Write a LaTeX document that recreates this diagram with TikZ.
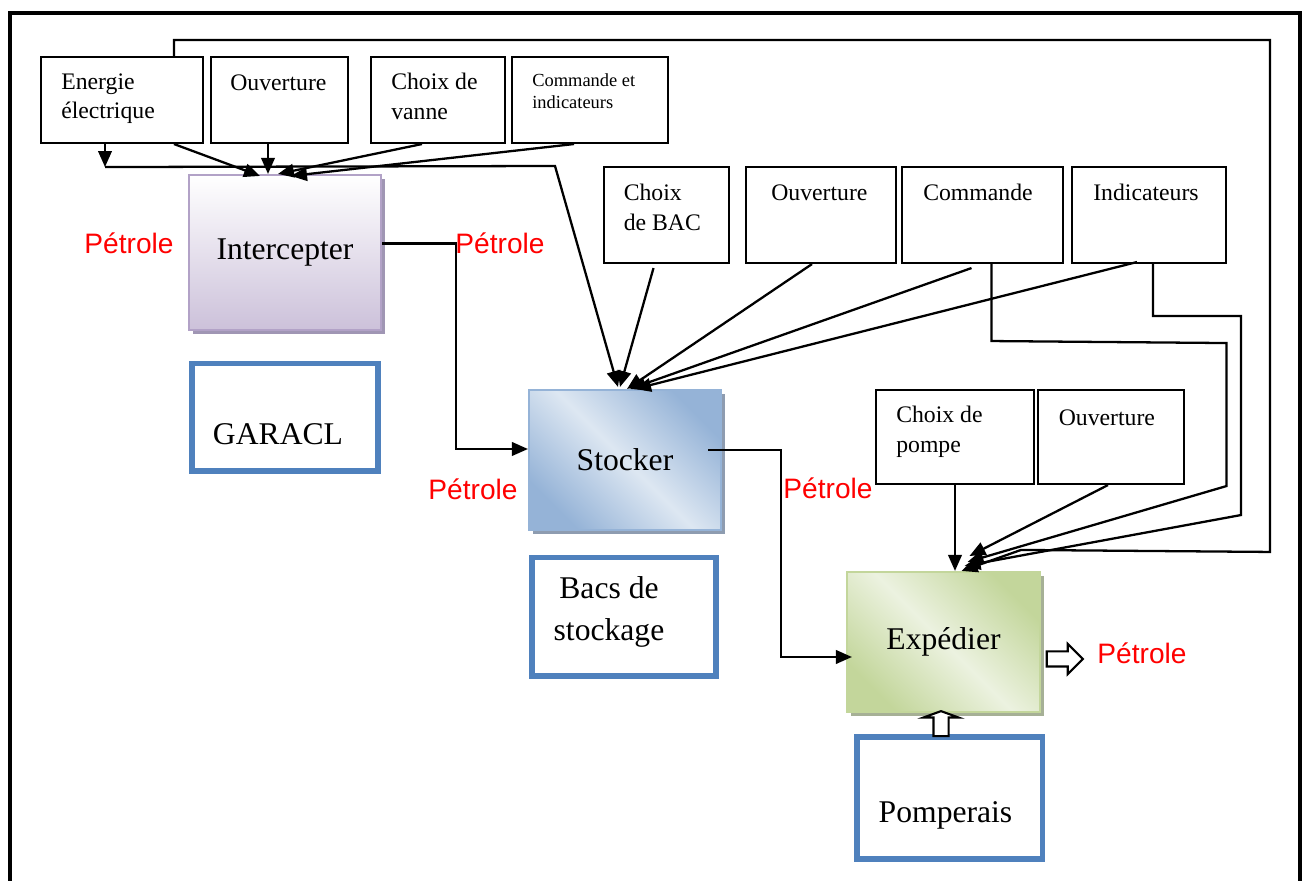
\documentclass[tikz,border=0pt]{standalone}
\usepackage{fontspec}
\setmainfont{Liberation Serif}
\newfontfamily\petfont{Liberation Sans}
\usetikzlibrary{arrows.meta,positioning,calc,shapes.arrows,shadows}

\definecolor{lilasbas}{RGB}{204,193,218}
\definecolor{lilasbord}{RGB}{178,162,199}
\definecolor{lilasombre}{RGB}{160,150,180}
\definecolor{bleufonce}{RGB}{149,179,215}
\definecolor{bleuclair}{RGB}{221,231,242}
\definecolor{bleuombre}{RGB}{142,156,176}
\definecolor{vertfonce}{RGB}{195,214,155}
\definecolor{vertclair}{RGB}{236,242,224}
\definecolor{vertombre}{RGB}{166,176,150}
\definecolor{resbleu}{RGB}{79,129,189}

\begin{document}
\begin{tikzpicture}[x=0.02cm, y=-0.02cm,
        ctlsty/.style={
            draw, rectangle, line width=1.2pt,
            inner sep=0pt,
        },
        txtsty/.style={
            inner sep=0pt, align=left,
            font=\fontsize{13.5}{17}\selectfont,
        },
        procsty/.style={
            draw, rectangle, line width=1.2pt,
            minimum width=3.84cm, minimum height=2.8cm,
            font=\fontsize{18}{24}\selectfont,
        },
        ressty/.style={
            draw=resbleu, rectangle, line width=3.4pt,
            inner sep=0pt,
        },
        bigsty/.style={inner sep=0pt, align=center, font=\fontsize{18}{24}\selectfont},
        petsty/.style={inner sep=0pt, text=red, font=\petfont\fontsize{16}{19}\selectfont},
        arrowsty/.style={-{Triangle[length=0.32cm, width=0.27cm]}, line width=1.3pt},
        blocsty/.style={single arrow, draw, fill=white, line width=1.2pt, inner sep=0.13cm},
    ]

    \useasboundingbox (0,0) rectangle (1303,881);
    \draw[line width=2.4pt] (10,881) -- (10,13) -- (1300,13) -- (1300,881);

    % commandes du haut
    \node[ctlsty, minimum width=3.24cm, minimum height=1.72cm] (ener) at (122,100) {};
    \node[ctlsty, minimum width=2.74cm, minimum height=1.72cm] (ouv1) at (279.5,100) {};
    \node[ctlsty, minimum width=2.68cm, minimum height=1.72cm] (vanne) at (438,100) {};
    \node[ctlsty, minimum width=3.12cm, minimum height=1.72cm] (cmdind) at (590,100) {};

    \node[txtsty, below right=0.34cm and 0.42cm of ener.north west] (enertxt) {Energie\\électrique};
    \node[txtsty, below right=0.38cm and 0.40cm of ouv1.north west] (ouv1txt) {Ouverture};
    \node[txtsty, below right=0.34cm and 0.42cm of vanne.north west] (vannetxt) {Choix de\\vanne};
    \node[txtsty, font=\fontsize{10.5}{13}\selectfont, below right=0.34cm and 0.42cm of cmdind.north west] (cmdindtxt) {Commande et\\indicateurs};

    \node[ctlsty, minimum width=2.5cm, minimum height=1.92cm] (bac) at (666.5,215) {};
    \node[ctlsty, minimum width=3.0cm, minimum height=1.92cm] (ouv2) at (821,215) {};
    \node[ctlsty, minimum width=3.22cm, minimum height=1.92cm] (cmd) at (982.5,215) {};
    \node[ctlsty, minimum width=3.08cm, minimum height=1.92cm] (ind) at (1149,215) {};

    \node[txtsty, below right=0.36cm and 0.41cm of bac.north west] (bactxt) {Choix\\de BAC};
    \node[txtsty, below right=0.36cm and 0.52cm of ouv2.north west] (ouv2txt) {Ouverture};
    \node[txtsty, below right=0.36cm and 0.44cm of cmd.north west] (cmdtxt) {Commande};
    \node[txtsty, below right=0.36cm and 0.44cm of ind.north west] (indtxt) {Indicateurs};

    \node[ctlsty, minimum width=3.16cm, minimum height=1.88cm] (pompe) at (955,437) {};
    \node[ctlsty, minimum width=2.92cm, minimum height=1.88cm] (ouv3) at (1111,437) {};

    \node[txtsty, below right=0.34cm and 0.42cm of pompe.north west] (pompetxt) {Choix de\\pompe};
    \node[txtsty, below right=0.40cm and 0.43cm of ouv3.north west] (ouv3txt) {Ouverture};

    % fonctions
    \node[procsty, minimum height=3.1cm, draw=lilasbord, top color=white, bottom color=lilasbas,
        drop shadow={shadow xshift=0.08cm, shadow yshift=-0.08cm, fill=lilasombre, opacity=1}]
        (inter) at (285,252.5) {Intercepter};
    \node[procsty, draw=bleufonce, left color=bleufonce, right color=bleufonce, middle color=bleuclair, shading angle=135,
        drop shadow={shadow xshift=0.08cm, shadow yshift=-0.08cm, fill=bleuombre, opacity=1}]
        (stock) at (625,460) {Stocker};
    \node[procsty, minimum width=3.86cm, draw=vertfonce, left color=vertfonce, right color=vertfonce, middle color=vertclair, shading angle=135,
        drop shadow={shadow xshift=0.08cm, shadow yshift=-0.08cm, fill=vertombre, opacity=1}]
        (exp) at (943.5,642) {Expédier};

    % moyens
    \node[ressty, minimum width=3.74cm, minimum height=2.16cm] (garacl) at (285,417.5) {};
    \node[ressty, minimum width=3.7cm, minimum height=2.38cm] (bacs) at (624,617) {};
    \node[ressty, minimum width=3.72cm, minimum height=2.44cm] (pomp) at (949.5,798) {};

    \node[bigsty] (garacltxt) at ($(garacl)+(-7,16.5)$) {GARACL};
    \node[bigsty] (bacstxt) at ($(bacs)+(-15,-5)$) {Bacs de\\stockage};
    \node[bigsty] (pomptxt) at ($(pomp)+(-4,17)$) {Pomperais};

    \node[petsty] (pet1) at (129,243) {Pétrole};
    \node[petsty] (pet2) at (500,243) {Pétrole};
    \node[petsty] (pet3) at (473,489.5) {Pétrole};
    \node[petsty] (pet4) at (828,488.5) {Pétrole};
    \node[petsty] (pet5) at (1142,653) {Pétrole};

    \node[blocsty, minimum height=0.72cm, single arrow head extend=0.15cm] (outarr) at (1061,659) {};
    \node[blocsty, minimum height=0.5cm, single arrow head extend=0.2cm, single arrow tip angle=140,
        shape border rotate=90] (inarr) at (941,725) {};

    % flux du petrole
    \draw[arrowsty] ($(inter.east)+(0,-9)$) -- ++(74,0) |- ($(stock.west)+(0,-11)$);
    \draw[arrowsty] ($(stock.east)+(-14,-10)$) -- ++(73,0) |- ($(exp.west)+(6,15)$);

    % vers intercepter
    \draw[arrowsty] ($(ener.south)+(52,0)$) -- ($(inter.north)+(-25,2)$);
    \draw[arrowsty] ($(ouv1.south)+(-11.5,0)$) -- ($(inter.north)+(-17,0)$);
    \draw[arrowsty] ($(vanne.south)+(-16,0)$) -- ($(inter.north)+(-7,0)$);
    \draw[arrowsty] ($(cmdind.south)+(-16,0)$) -- ($(inter.north)+(6,2)$);

    % vers stocker
    \draw[arrowsty] ($(ener.south)+(-17,0)$) -- ++(0,23) coordinate (busw);
    \coordinate (buse) at (555,166);
    \draw[arrowsty] (busw) -- (buse) -- ($(stock.north)+(-7,-2)$);
    \draw[arrowsty] ($(bac.south)+(-13,4)$) -- ($(stock.north)+(-5,-2)$);
    \draw[arrowsty] ($(ouv2.south)+(-9,0)$) -- ($(stock.north)+(2,0)$);
    \draw[arrowsty] ($(cmd.south)+(-11,4)$) -- ($(stock.north)+(5,0)$);
    \draw[arrowsty] ($(ind.south)+(-12,-2)$) -- ($(stock.north)+(10,0)$);

    % vers expedier
    \draw[arrowsty] (pompe.south) -- (pompe.south |- exp.north);
    \draw[arrowsty] ($(ouv3.south)+(-3,0)$) -- ($(exp.north)+(26,-15)$);
    \draw[arrowsty] ($(cmd.south)+(9,0)$) -- ++(0,77) -- ++(235,2) -- ++(0,143) -- ($(exp.north)+(24,-9)$);
    \draw[arrowsty] ($(ind.south)+(4,0)$) -- ++(0,52) -- ++(88,0) -- ++(0,199) -- ($(exp.north)+(21,-5)$);
    \draw[arrowsty] ($(ener.north)+(52,0)$) -- ++(0,-16) -- ++(1096,0) -- ++(0,512) -- ++(-249,-2) -- ($(exp.north)+(18,0)$);

\end{tikzpicture}
\end{document}
